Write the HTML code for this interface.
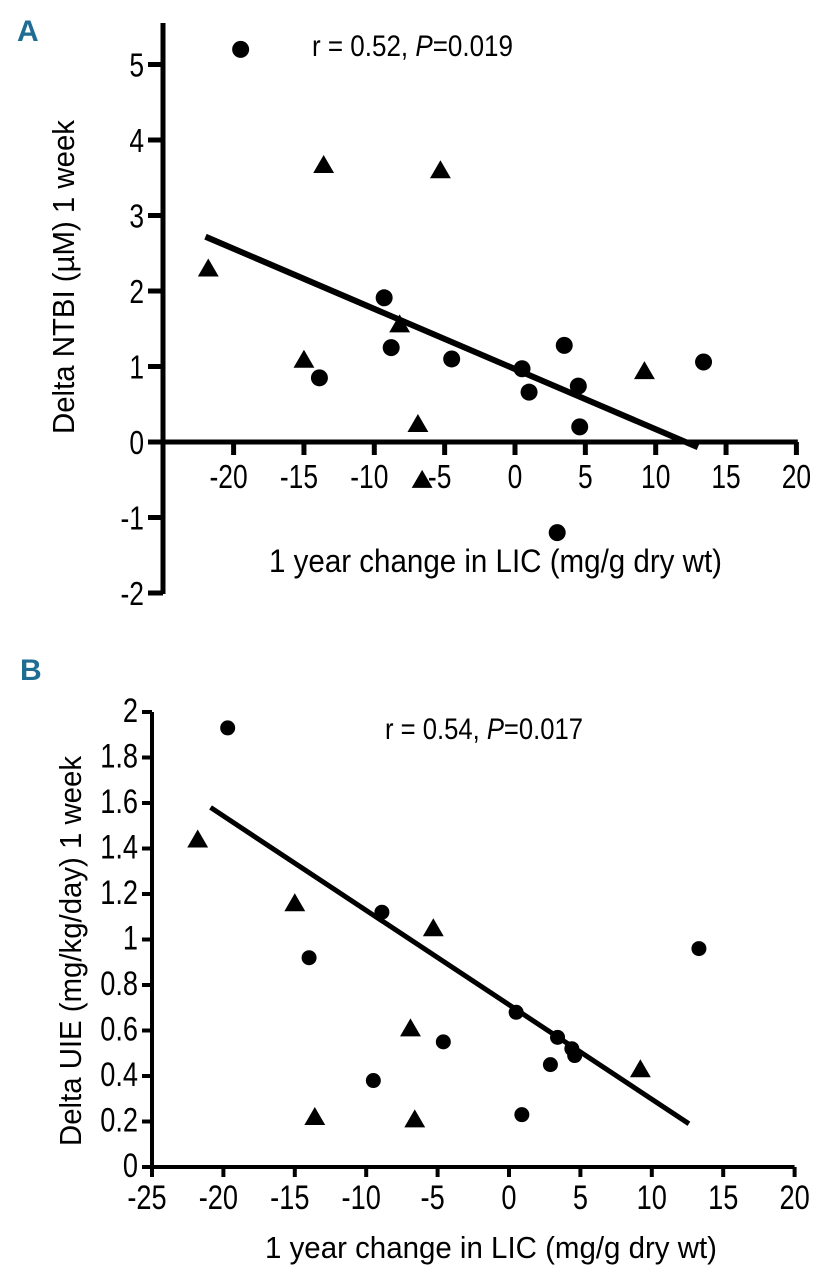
<!DOCTYPE html>
<html><head><meta charset="utf-8"><style>
html,body{margin:0;padding:0;background:#fff;}
svg{display:block;font-family:"Liberation Sans",sans-serif;}
</style></head><body>
<svg id="fig" width="822" height="1280" viewBox="0 0 822 1280" xmlns="http://www.w3.org/2000/svg"></svg>
<script>
// ---- Panel A data ----
const aCircleX=[-19.5,-13.9,-9.3,-8.8,-4.5,0.5,1.0,3.5,4.5,4.6,3.0,13.4];
const aCircleY=[5.2,0.85,1.91,1.25,1.1,0.97,0.66,1.28,0.74,0.2,-1.2,1.06];
const aTriX=[-21.8,-13.6,-5.3,-8.2,-15.0,-6.9,-6.6,9.2];
const aTriY=[2.3,3.67,3.6,1.56,1.09,0.24,-0.5,0.94];
const aFit=[0.966,-0.0797]; // intercept, slope
const aFitRange=[-22,13];
const aXTicks=[-20,-15,-10,-5,0,5,10,15,20];
const aYTicks=[5,4,3,2,1,0,-1,-2];
// ---- Panel B data ----
const bCircleX=[-19.7,-8.9,-14.0,-4.6,-9.5,13.3,0.5,3.4,4.4,4.6,2.9,0.9];
const bCircleY=[1.93,1.12,0.92,0.55,0.38,0.96,0.68,0.57,0.52,0.49,0.45,0.23];
const bTriX=[-21.8,-15.0,-5.3,-6.9,-13.6,-6.6,9.2];
const bTriY=[1.44,1.16,1.05,0.61,0.22,0.21,0.43];
const bFit=[0.713,-0.0415];
const bFitRange=[-20.9,12.6];
const bXTicks=[-25,-20,-15,-10,-5,0,5,10,15,20];
const bYTicks=[2,1.8,1.6,1.4,1.2,1,0.8,0.6,0.4,0.2,0];

const svg=document.getElementById('fig');
const NS='http://www.w3.org/2000/svg';
function mk(tag,attrs,parent){const e=document.createElementNS(NS,tag);for(const k in attrs)e.setAttribute(k,attrs[k]);(parent||svg).appendChild(e);return e;}

const axA={x:v=>515+14.07*v,y:v=>442-75.5*v};
const axB={x:v=>509+14.28*v,y:v=>1167-227.5*v};

function label(txt,x,y,fs,anchor,name,sx){
  const t=mk('text',{transform:`translate(${x},${y}) scale(${sx||0.8},1)`,'font-size':fs,'text-anchor':anchor,fill:'#000'});
  
  
  t.textContent=txt;return t;
}

function panel(ax,cfg){
  const g=mk('g',{});
  
  
  const ya=mk('line',{x1:cfg.yAxisX,y1:cfg.yTop,x2:cfg.yAxisX,y2:cfg.yBot,stroke:'#000','stroke-width':cfg.aw},g);
  
  
  const xa=mk('line',{x1:cfg.yAxisX-cfg.aw/2,y1:ax.y(0),x2:ax.x(cfg.xEnd),y2:ax.y(0),stroke:'#000','stroke-width':cfg.aw},g);
  
  
  cfg.yTicks.forEach(v=>{
    const tk=mk('line',{x1:cfg.yAxisX-cfg.ytl,y1:ax.y(v),x2:cfg.yAxisX,y2:ax.y(v),stroke:'#000','stroke-width':cfg.tw},g);
    
    
    label(String(v),cfg.yLabX,ax.y(v)+cfg.yLabDy,cfg.tfs,'end','y-tick-label');
  });
  cfg.xTicks.forEach(v=>{
    const tk=mk('line',{x1:ax.x(v),y1:ax.y(0),x2:ax.x(v),y2:ax.y(0)+cfg.xtl,stroke:'#000','stroke-width':cfg.tw},g);
    
    
    label(String(v),ax.x(v)-(v<0?5:0),cfg.xLabY,cfg.tfs,'middle','x-tick-label');
  });
  const [b0,b1]=cfg.fit;
  const fl=mk('line',{x1:ax.x(cfg.fitRange[0]),y1:ax.y(b0+b1*cfg.fitRange[0]),x2:ax.x(cfg.fitRange[1]),y2:ax.y(b0+b1*cfg.fitRange[1]),stroke:'#000','stroke-width':cfg.lw},g);
  
  
  cfg.cx.forEach((v,i)=>{
    const c=mk('circle',{cx:ax.x(v),cy:ax.y(cfg.cy[i]),r:cfg.cr,fill:'#000'},g);
    
    
  });
  cfg.tx.forEach((v,i)=>{
    const x=ax.x(v),y=ax.y(cfg.ty[i]),s=cfg.ts;
    const p=mk('polygon',{points:`${x},${y-s*0.55} ${x-s*0.58},${y+s*0.45} ${x+s*0.58},${y+s*0.45}`,fill:'#000'},g);
    
    
  });
}

panel(axA,{name:'panel-a-chart',yAxisX:163,yTop:23,yBot:594,aw:5,tw:5,ytl:15,xtl:13,xEnd:20.1,
  yTicks:aYTicks,xTicks:aXTicks,yLabX:144,yLabDy:12,xLabY:488,tfs:33,
  fit:aFit,fitRange:aFitRange,lw:6,cx:aCircleX,cy:aCircleY,cr:8.5,tx:aTriX,ty:aTriY,ts:18});
panel(axB,{name:'panel-b-chart',yAxisX:152,yTop:712,yBot:1170,aw:4,tw:4,ytl:10,xtl:10,xEnd:20,
  yTicks:bYTicks,xTicks:bXTicks,yLabX:138,yLabDy:10,xLabY:1209,tfs:34,
  fit:bFit,fitRange:bFitRange,lw:5,cx:bCircleX,cy:bCircleY,cr:7.5,tx:bTriX,ty:bTriY,ts:18});
</script>
<svg style="position:absolute;left:0;top:0" width="822" height="1280" font-family="Liberation Sans, sans-serif">
  <text x="17" y="41" font-size="30" font-weight="bold" fill="#1f6d93">A</text>
  <text x="20" y="680" font-size="30" font-weight="bold" fill="#1f6d93">B</text>
  <text x="312" y="56" font-size="30" fill="#000" textLength="201" lengthAdjust="spacingAndGlyphs">r = 0.52, <tspan font-style="italic">P</tspan>=0.019</text>
  <text x="385" y="739" font-size="30" fill="#000" textLength="198" lengthAdjust="spacingAndGlyphs">r = 0.54, <tspan font-style="italic">P</tspan>=0.017</text>
  <text x="269" y="572" font-size="32" fill="#000" textLength="453" lengthAdjust="spacingAndGlyphs">1 year change in LIC (mg/g dry wt)</text>
  <text x="265" y="1258" font-size="31" fill="#000" textLength="452" lengthAdjust="spacingAndGlyphs">1 year change in LIC (mg/g dry wt)</text>
  <text transform="translate(74,277) rotate(-90)" text-anchor="middle" font-size="31" fill="#000" textLength="314" lengthAdjust="spacingAndGlyphs">Delta NTBI (µM) 1 week</text>
  <text transform="translate(81,951) rotate(-90)" text-anchor="middle" font-size="31" fill="#000" textLength="390" lengthAdjust="spacingAndGlyphs">Delta UIE (mg/kg/day) 1 week</text>
</svg>
</body></html>
